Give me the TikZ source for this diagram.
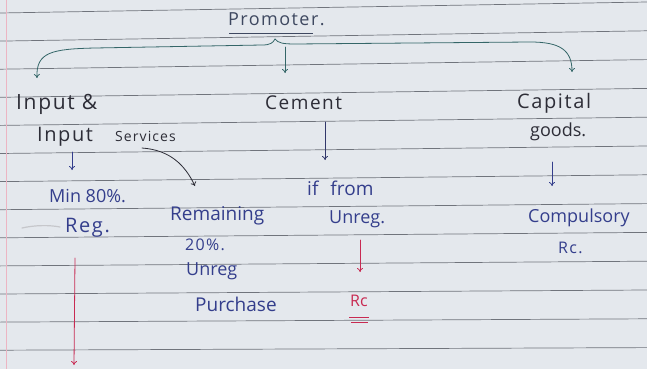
\documentclass[tikz,border=0pt]{standalone}
\usepackage{fontspec}
\setmainfont{Open Sans}
\newfontfamily\handa[LetterSpace=8]{Open Sans}
\usetikzlibrary{positioning,arrows.meta}

\definecolor{paper}{RGB}{228,232,237}
\definecolor{rule}{RGB}{112,116,124}
\definecolor{inkk}{RGB}{45,45,55}
\definecolor{inkb}{RGB}{52,62,140}
\definecolor{inkr}{RGB}{200,42,82}
\definecolor{inkg}{RGB}{52,102,104}
\definecolor{inks}{RGB}{62,72,96}

\newcommand{\fs}[1]{\fontsize{#1}{#1}\selectfont}
\tikzset{
  hand/.style={inner sep=0pt, anchor=west, font=\fs{18}},
  pen/.style={line width=0.8pt, line cap=round, -{To[length=4pt,width=6pt]}}
}

\begin{document}
\begin{tikzpicture}[x=1pt, y=-1pt]
\fill[paper] (0,0) rectangle (647,369);
\useasboundingbox (0,0) rectangle (647,369);
%Ruled lines
\foreach \i in {0,...,12}
  \draw[rule, line width=0.7pt] (0, 13+28.1*\i) -- (647, 2+28.8*\i);
\draw[inkr!35, line width=0.6pt] (6,0) -- (6,369);
\draw[rule!40, line width=1.2pt, line cap=round] (22,228) .. controls (35,225) and (50,225) .. (60,227);

%Heading
\node[hand, text=inks, font=\handa\fs{18}] (prom) at (228,19) {Promoter.};
\draw[inks, line width=0.8pt] (229,33) -- (313,33);

%Columns
\node[hand, text=inkk, font=\handa\fs{21}] (inp) at (16,104) {Input \&};
\node[hand, text=inkk, font=\handa\fs{20}] (inps) at (37,137) {Input\hspace{22pt}{\fs{14}Services}};
\node[hand, text=inkb] (min) at (49,196) {Min 80\%.};
\node[hand, text=inkb, font=\handa\fs{20}] (reg) at (65,228) {Reg.};
\node[hand, text=inkb, font=\fs{19}] (rem) at (170,216) {Remaining};
\node[hand, text=inkb, font=\handa\fs{16}] (twe) at (185,245) {20\%.};
\node[hand, text=inkb] (unr) at (186,271) {Unreg};
\node[hand, text=inkb, font=\fs{19}] (pur) at (195,304) {Purchase};

\node[hand, text=inkk, font=\handa\fs{19}] (cem) at (265,103) {Cement};
\node[hand, text=inkb, font=\fs{19}] (iff) at (307,188) {if\hspace{12pt}from};
\node[hand, text=inkb] (unr2) at (329,219) {Unreg.};
\node[hand, text=inkr, font=\fs{16}] (rc) at (350,301) {Rc};
\draw[inkr, line width=0.9pt] (349,317) -- (369,317) (351,322) -- (368,322);

\node[hand, text=inkk, font=\handa\fs{20}] (cap) at (517,103) {Capital};
\node[hand, text=inkk] (goo) at (530,132) {goods.};
\node[hand, text=inkb] (com) at (528,218) {Compulsory};
\node[hand, text=inkb, font=\handa\fs{16}] (rc2) at (558,248) {Rc.};

%Brace from the heading
\coordinate (bl) at (37,78);
\coordinate (bm) at (285,47);
\coordinate (bc) at (285,73);
\coordinate (br) at (572,72);
\draw[pen, inkg, {To[length=4pt,width=6pt]}-{To[length=4pt,width=6pt]}] (bl) .. controls (36,52) and (52,49) .. (95,48)
  -- (262,45) .. controls (270,45) and (273,43) .. (275,39)
  .. controls (278,43) and (283,44) .. (295,44) -- (530,42)
  .. controls (560,42) and (572,50) .. (br);
\draw[pen, inkg] (bm) -- (bc);

%Arrows down each column
\coordinate (s1) at (142,148);
\coordinate (s2) at (195,186);
\draw[pen, inkb] (72,152) -- (72,170);
\draw[pen, inkk] (s1) .. controls (170,150) and (185,165) .. (s2);
\draw[pen, inkb!60!inkk] (325,122) -- (325,160);
\draw[pen, inkb] (552,162) -- (552,186);
\draw[pen, inkr] (75,258) -- (74,365);
\draw[pen, inkr] (360,240) -- (360,272);
\end{tikzpicture}
\end{document}
